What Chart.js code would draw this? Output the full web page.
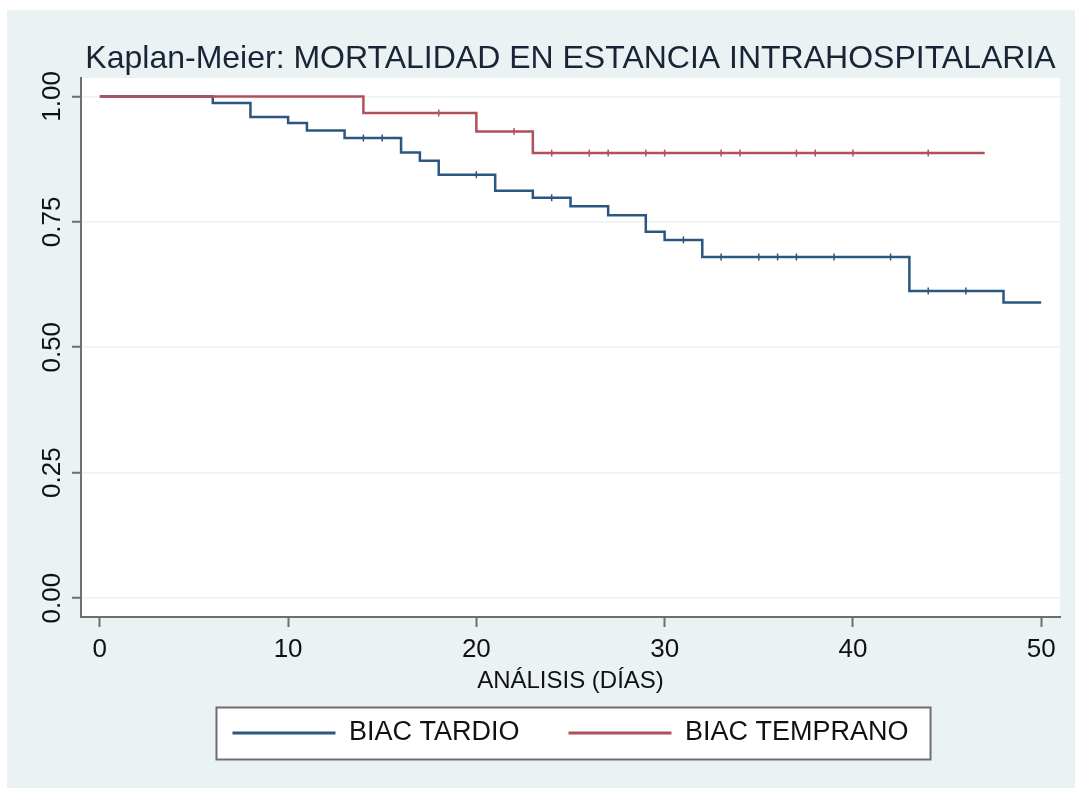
<!DOCTYPE html>
<html lang="es">
<head>
<meta charset="UTF-8">
<title>Kaplan-Meier: mortalidad en estancia intrahospitalaria</title>
<script src="https://cdn.jsdelivr.net/npm/chart.js"></script>
<style>
  html, body { margin: 0; padding: 0; background: #fff; }
  canvas { display: block; }
</style>
</head>
<body>
<canvas id="km" width="1075" height="788"></canvas>
<script>
// curvas de supervivencia (dia del evento, supervivencia despues del evento)
const tardioDias = [0, 6, 8, 10, 11, 13, 16, 17, 18, 21, 23, 25, 27, 29, 30, 32, 43, 48, 50];
const tardioSurv = [1, 0.987, 0.959, 0.947, 0.932, 0.917, 0.888, 0.872, 0.844, 0.812, 0.798, 0.781, 0.763, 0.730, 0.714, 0.680, 0.612, 0.589, 0.589];
const tempranoDias = [0, 14, 20, 23, 47];
const tempranoSurv = [1, 0.967, 0.930, 0.887, 0.887];
// marcas de censura
const tardioCensura = [14, 15, 20, 24, 31, 33, 35, 36, 37, 39, 42, 44, 46];
const tempranoCensura = [18, 22, 24, 26, 27, 29, 30, 33, 34, 37, 38, 40, 44];
const xTicks = [0, 10, 20, 30, 40, 50];
const yTicks = [0, 0.25, 0.5, 0.75, 1];

const AZUL = '#2a5680';
const ROJO = '#b0505a';
const GRIS = '#6e6e6e';
const FONDO = '#eaf2f3';
const FUENTE = '"Liberation Sans", Arial, sans-serif';

function survAt(dias, surv, t) {
  let s = surv[0];
  for (let i = 0; i < dias.length; i++) if (dias[i] <= t) s = surv[i];
  return s;
}
const puntos = (dias, surv) => dias.map((d, i) => ({ x: d, y: surv[i] }));
const censura = (c, dias, surv) => c.map(t => ({ x: t, y: survAt(dias, surv, t) }));

// fondo gris, region blanca y recuadro de la leyenda
const fondo = {
  id: 'fondo',
  beforeDraw(chart) {
    const { ctx, chartArea: a } = chart;
    ctx.save();
    ctx.fillStyle = '#fff';
    ctx.fillRect(0, 0, chart.width, chart.height);
    ctx.fillStyle = FONDO;
    ctx.fillRect(7, 10, chart.width - 7, chart.height - 10);
    ctx.fillStyle = '#fff';
    ctx.fillRect(a.left, a.top, a.right - a.left, a.bottom - a.top);

    const hb = chart.legend.legendHitBoxes;
    if (hb && hb.length) {
      const last = hb[hb.length - 1];
      const x0 = hb[0].left - 16, x1 = last.left + last.width + 22;
      const mid = hb[0].top + hb[0].height / 2;
      ctx.fillStyle = '#fff';
      ctx.fillRect(x0, mid - 25.5, x1 - x0, 52);
      ctx.strokeStyle = GRIS;
      ctx.lineWidth = 2;
      ctx.strokeRect(x0, mid - 25.5, x1 - x0, 52);
    }
    ctx.restore();
  }
};

new Chart(document.getElementById('km'), {
  type: 'line',
  data: {
    datasets: [
      {
        label: 'BIAC TARDIO',
        data: puntos(tardioDias, tardioSurv),
        borderColor: AZUL, backgroundColor: AZUL,
        borderWidth: 2.5, stepped: true, pointRadius: 0, fill: false,
        borderJoinStyle: 'miter', order: 1
      },
      {
        label: 'BIAC TEMPRANO',
        data: puntos(tempranoDias, tempranoSurv),
        borderColor: ROJO, backgroundColor: ROJO,
        borderWidth: 2.5, stepped: true, pointRadius: 0, fill: false,
        borderJoinStyle: 'miter', order: 0
      },
      {
        label: 'censura tardio', censura: true,
        data: censura(tardioCensura, tardioDias, tardioSurv),
        showLine: false, pointStyle: 'line', rotation: 90, pointRadius: 3.5,
        borderColor: AZUL, borderWidth: 1.5, order: 1
      },
      {
        label: 'censura temprano', censura: true,
        data: censura(tempranoCensura, tempranoDias, tempranoSurv),
        showLine: false, pointStyle: 'line', rotation: 90, pointRadius: 3.5,
        borderColor: ROJO, borderWidth: 1.5, order: 0
      }
    ]
  },
  options: {
    responsive: false,
    animation: false,
    devicePixelRatio: 1,
    layout: { padding: { left: 0, right: 15, top: 0, bottom: 31.5 } },
    font: { family: FUENTE },
    scales: {
      x: {
        type: 'linear', min: -1, max: 51,
        afterBuildTicks: s => { s.ticks = xTicks.map(v => ({ value: v })); },
        afterFit: s => { s.height = 53.5; },
        grid: { drawOnChartArea: false, drawTicks: true, tickLength: 10, tickColor: GRIS, tickWidth: 2 },
        border: { color: GRIS, width: 2 },
        ticks: { font: { family: FUENTE, size: 26 }, color: '#111', padding: 7, maxRotation: 0, autoSkip: false },
        title: {
          display: true, text: 'ANÁLISIS (DÍAS)', color: '#111',
          font: { family: FUENTE, size: 24 }, padding: { top: 0, bottom: -25.5 }
        }
      },
      y: {
        min: -0.0377, max: 1.0367,
        afterBuildTicks: s => { s.ticks = yTicks.map(v => ({ value: v })); },
        afterFit: s => { s.width = 81; },
        grid: { color: FONDO, lineWidth: 1.5, tickLength: 9, tickColor: GRIS, tickWidth: 2 },
        border: { color: GRIS, width: 2 },
        ticks: {
          font: { family: FUENTE, size: 26 }, color: '#111',
          minRotation: 90, maxRotation: 90, crossAlign: 'center', padding: -6,
          callback: v => v.toFixed(2)
        }
      }
    },
    plugins: {
      tooltip: { enabled: false },
      title: {
        display: true, fullSize: false,
        text: 'Kaplan-Meier: MORTALIDAD EN ESTANCIA INTRAHOSPITALARIA',
        color: '#1b2436', font: { family: FUENTE, size: 32, weight: 'normal' },
        padding: { top: 40.3, bottom: -0.7 }
      },
      legend: {
        position: 'bottom', fullSize: false,
        labels: {
          boxWidth: 103, boxHeight: 3, padding: 49, color: '#111',
          font: { family: FUENTE, size: 27 },
          filter: (it, data) => !data.datasets[it.datasetIndex].censura,
          sort: (a, b) => a.datasetIndex - b.datasetIndex,
          generateLabels: chart => Chart.defaults.plugins.legend.labels.generateLabels(chart)
            .map(it => Object.assign(it, { lineWidth: 0 }))
        }
      }
    }
  },
  plugins: [fondo]
});
</script>
</body>
</html>
